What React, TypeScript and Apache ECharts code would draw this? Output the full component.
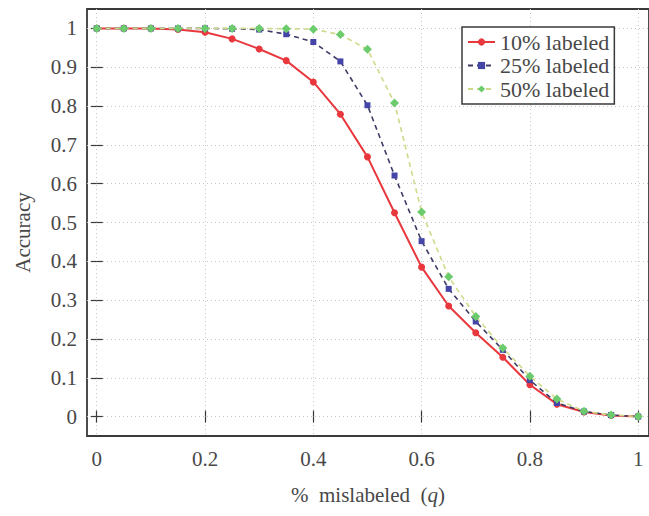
import React, { useEffect, useRef } from "react";
import * as echarts from "echarts";

const mislabeled = [0, 0.05, 0.1, 0.15, 0.2, 0.25, 0.3, 0.35, 0.4, 0.45, 0.5, 0.55, 0.6, 0.65, 0.7, 0.75, 0.8, 0.85, 0.9, 0.95, 1];
const acc10 = [1, 1, 1, 0.997, 0.99, 0.973, 0.947, 0.917, 0.862, 0.779, 0.669, 0.525, 0.385, 0.285, 0.216, 0.153, 0.082, 0.032, 0.012, 0.003, 0];
const acc25 = [1, 1, 1, 1, 1, 0.999, 0.997, 0.985, 0.965, 0.915, 0.802, 0.621, 0.452, 0.329, 0.245, 0.172, 0.094, 0.035, 0.013, 0.004, 0];
const acc50 = [1, 1, 1, 1, 1, 1, 1, 0.999, 0.998, 0.984, 0.946, 0.808, 0.527, 0.36, 0.258, 0.177, 0.104, 0.045, 0.014, 0.004, 0];
const seriesNames = ["10% labeled", "25% labeled", "50% labeled"];
const xTicks = [0, 0.2, 0.4, 0.6, 0.8, 1];
const yTicks = [0, 0.1, 0.2, 0.3, 0.4, 0.5, 0.6, 0.7, 0.8, 0.9, 1];

export default function App() {
  const ref = useRef<HTMLDivElement>(null);
  useEffect(() => {
    const chart = echarts.init(ref.current!, null, { renderer: "svg" });
    const font = "'Liberation Serif', 'Times New Roman', serif";
    const txt = "#484848";
    const frame = "#3a3a3a";
    const zip = (ys: number[]) => mislabeled.map((x, i) => [x, ys[i]]);
    const fmt = (v: number) => String(Math.round(v * 10) / 10);
    const grid = { color: "#c8c8c8", type: [1, 3] as any, width: 1 };
    chart.setOption({
      animation: false,
      backgroundColor: "#fff",
      textStyle: { fontFamily: font },
      grid: {
        left: 87, top: 9, width: 564, height: 427,
        show: true, borderColor: frame, borderWidth: 1.8, backgroundColor: "transparent",
      },
      legend: {
        data: seriesNames,
        orient: "vertical",
        left: 462, top: 27,
        itemWidth: 27, itemHeight: 9, itemGap: 1.5,
        padding: [4, 5, 4, 5],
        borderColor: frame, borderWidth: 1.5, backgroundColor: "#fff",
        textStyle: { fontFamily: font, fontSize: 22, color: txt },
      },
      xAxis: [
        {
          type: "value", min: -0.018, max: 1.02, position: "bottom",
          axisLine: { show: false },
          axisTick: { show: true, inside: true, length: 6, lineStyle: { color: frame, width: 1.2 }, customValues: xTicks },
          axisLabel: { customValues: xTicks, formatter: fmt, fontFamily: font, fontSize: 21, color: txt, margin: 12 },
          splitLine: { show: true, lineStyle: grid },
          name: "%  mislabeled  ({i|q})",
          nameLocation: "middle", nameGap: 48,
          nameTextStyle: {
            fontFamily: font, fontSize: 21, color: txt,
            rich: { i: { fontFamily: font, fontSize: 21, color: txt, fontStyle: "italic" } },
          },
        },
        {
          type: "value", min: -0.018, max: 1.02, position: "top",
          axisLine: { show: false },
          axisTick: { show: true, inside: true, length: 6, lineStyle: { color: frame, width: 1.2 }, customValues: xTicks },
          axisLabel: { show: false },
          splitLine: { show: false },
        },
      ],
      yAxis: [
        {
          type: "value", min: -0.05, max: 1.05, position: "left",
          axisLine: { show: false },
          axisTick: { show: true, inside: true, length: 6, lineStyle: { color: frame, width: 1.2 }, customValues: yTicks },
          axisLabel: { customValues: yTicks, formatter: fmt, fontFamily: font, fontSize: 21, color: txt, margin: 10 },
          splitLine: { show: true, lineStyle: grid },
          name: "Accuracy",
          nameLocation: "middle", nameGap: 54,
          nameTextStyle: { fontFamily: font, fontSize: 21, color: txt, padding: [0, 20, 0, 0] },
        },
        {
          type: "value", min: -0.05, max: 1.05, position: "right",
          axisLine: { show: false },
          axisTick: { show: true, inside: true, length: 6, lineStyle: { color: frame, width: 1.2 }, customValues: yTicks },
          axisLabel: { show: false },
          splitLine: { show: false },
        },
      ],
      series: [
        {
          name: seriesNames[0], type: "line", data: zip(acc10),
          symbol: "circle", symbolSize: 7,
          lineStyle: { color: "#e8383d", width: 2 },
          itemStyle: { color: "#e8383d" },
          z: 2,
        },
        {
          name: seriesNames[1], type: "line", data: zip(acc25),
          symbol: "rect", symbolSize: 6,
          lineStyle: { color: "#3c3c66", width: 1.6, type: [5, 4] },
          itemStyle: { color: "#4545a8" },
          z: 3,
        },
        {
          name: seriesNames[2], type: "line", data: zip(acc50),
          symbol: "diamond", symbolSize: 9,
          lineStyle: { color: "#cfd98a", width: 1.6, type: [5, 4] },
          itemStyle: { color: "#6ccb6c" },
          z: 4,
        },
      ],
    });
    return () => chart.dispose();
  }, []);
  return <div ref={ref} style={{ position: "fixed", left: 0, top: 0, width: 649, height: 516 }} />;
}
